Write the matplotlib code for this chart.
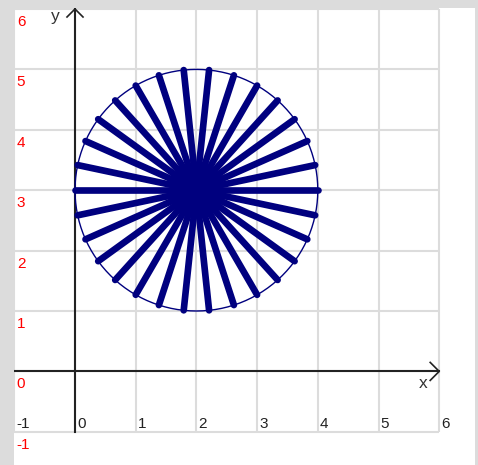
import matplotlib.pyplot as plt
import numpy as np

# grid / axis ranges
x_ticks = [-1, 0, 1, 2, 3, 4, 5, 6]
y_ticks = [-1, 0, 1, 2, 3, 4, 5, 6]

# wheel: centre, radius and spoke directions (degrees)
center = (2, 3)
radius = 2
spoke_angles = [0, 12, 24, 36, 48, 60, 72, 84, 96, 108, 120, 132, 144, 156, 168,
                180, 192, 204, 216, 228, 240, 252, 264, 276, 288, 300, 312, 324, 336, 348]

navy = "#00007f"
grid_c = "#dcdcdc"
axis_c = "#222222"

fig = plt.figure(figsize=(4.78, 4.65), dpi=100, facecolor="#dcdcdc")
W, H = 478, 465
# white panel: px 14..475 horizontally, 8..465 vertically
ax = fig.add_axes([14 / W, 0, (475 - 14) / W, (465 - 8) / H])
ppx, ppy = 60.7, 60.4  # pixels per unit
ax.set_xlim(-1 - 0.3 / ppx, -1 + (475 - 14.3) / ppx)
ax.set_ylim(6 - (465 - 9) / ppy, 6 + 1 / ppy)
ax.axis("off")
ax.add_patch(plt.Rectangle((0, 0), 1, 1, transform=ax.transAxes, color="white", zorder=0))

# grid
ax.vlines(x_ticks, y_ticks[0], y_ticks[-1], color=grid_c, lw=1.5, zorder=1)
ax.hlines(y_ticks, x_ticks[0], x_ticks[-1], color=grid_c, lw=1.5, zorder=1)

# axes with open arrow heads
ax.plot([x_ticks[0], x_ticks[-1]], [0, 0], color=axis_c, lw=1.5, zorder=2)
ax.plot([0, 0], [y_ticks[0], y_ticks[-1]], color=axis_c, lw=1.5, zorder=2)
ax.plot([x_ticks[-1] - 9 / ppx, x_ticks[-1], x_ticks[-1] - 9 / ppx], [9 / ppy, 0, -9 / ppy],
        color=axis_c, lw=1.2, zorder=2)
ax.plot([-8 / ppx, 0, 8 / ppx], [y_ticks[-1] - 8 / ppy, y_ticks[-1], y_ticks[-1] - 8 / ppy],
        color=axis_c, lw=1.2, zorder=2)

# tick labels
for v in y_ticks:
    ax.text(-1 + 2.5 / ppx, v - 6 / ppy, str(v), color="red", fontsize=11,
            family="Liberation Sans", ha="left", va="top", zorder=3)
for v in x_ticks:
    ax.text(v + 2 / ppx, -1 + 4 / ppy, str(v), color="#222222", fontsize=11,
            family="Liberation Sans", ha="left", va="baseline", zorder=3)
ax.text(5.67, -0.28, "x", color="#333333", fontsize=12.5, family="Liberation Sans",
        ha="left", va="baseline", zorder=3)
ax.text(-0.39, 5.8, "y", color="#333333", fontsize=12.5, family="Liberation Sans",
        ha="left", va="baseline", zorder=3)

# circle
t = np.linspace(0, 2 * np.pi, 361)
ax.plot(center[0] + radius * np.cos(t), center[1] + radius * np.sin(t), color=navy, lw=1, zorder=4)

# spokes
for a in spoke_angles:
    r = np.deg2rad(a)
    ax.plot([center[0], center[0] + radius * np.cos(r)],
            [center[1], center[1] + radius * np.sin(r)],
            color=navy, lw=4.8, solid_capstyle="round", zorder=5)

fig.savefig("out.png", dpi=100, facecolor=fig.get_facecolor())
